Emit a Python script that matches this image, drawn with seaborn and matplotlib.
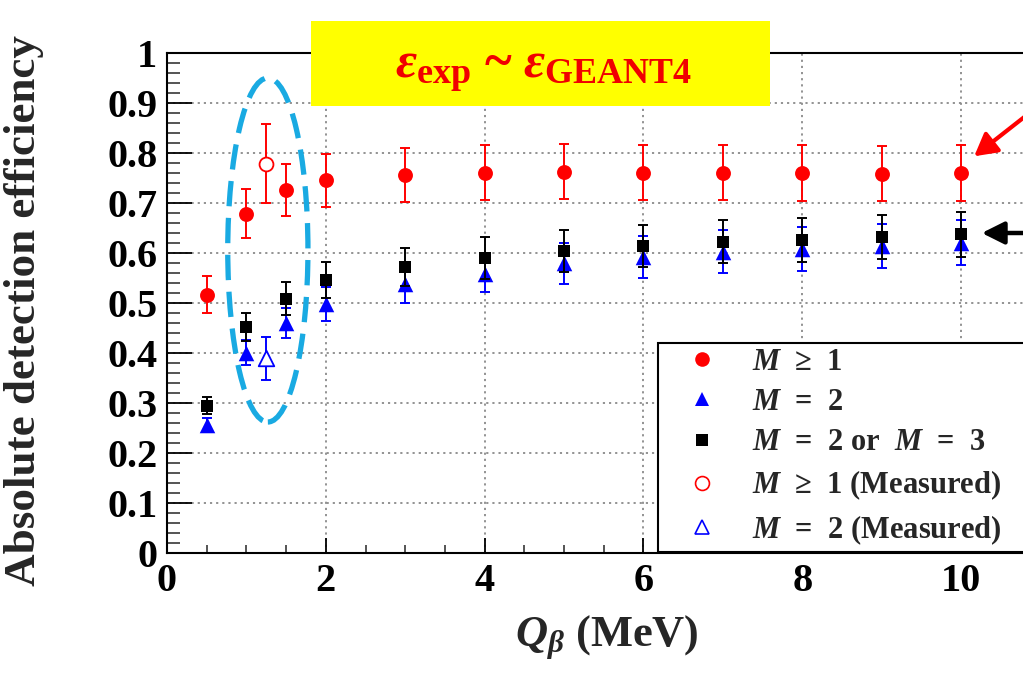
import matplotlib
matplotlib.use("Agg")
import matplotlib.pyplot as plt
from matplotlib.patches import Ellipse, Rectangle, FancyArrowPatch
from matplotlib.lines import Line2D
from matplotlib.ticker import MultipleLocator
import seaborn as sns
import pandas as pd

# Simulated efficiencies versus Q-beta
q_values = [0.5, 1, 1.5, 2, 3, 4, 5, 6, 7, 8, 9, 10]
eff_m_ge1 = [0.517, 0.679, 0.727, 0.746, 0.757, 0.761, 0.763, 0.761, 0.761, 0.760, 0.759, 0.760]
err_m_ge1 = [0.037, 0.048, 0.052, 0.053, 0.054, 0.055, 0.055, 0.055, 0.055, 0.055, 0.055, 0.055]
eff_m_eq2 = [0.256, 0.401, 0.461, 0.499, 0.539, 0.559, 0.580, 0.593, 0.603, 0.609, 0.614, 0.621]
err_m_eq2 = [0.014, 0.025, 0.030, 0.034, 0.038, 0.036, 0.041, 0.042, 0.043, 0.044, 0.044, 0.045]
eff_m_23 = [0.295, 0.453, 0.509, 0.546, 0.573, 0.591, 0.605, 0.614, 0.623, 0.627, 0.633, 0.638]
err_m_23 = [0.017, 0.028, 0.033, 0.036, 0.038, 0.042, 0.042, 0.042, 0.043, 0.044, 0.044, 0.045]

# Measured points
q_meas = [1.25]
eff_meas_ge1 = [0.779]
err_meas_ge1 = [0.080]
eff_meas_eq2 = [0.390]
err_meas_eq2 = [0.043]

legend_labels = [
    r"$M$  ≥  1",
    r"$M$  =  2",
    r"$M$  =  2 or  $M$  =  3",
    r"$M$  ≥  1 (Measured)",
    r"$M$  =  2 (Measured)",
]
x_ticks = [0, 2, 4, 6, 8, 10]
x_tick_labels = ["0", "2", "4", "6", "8", "10"]
y_ticks = [0, 0.1, 0.2, 0.3, 0.4, 0.5, 0.6, 0.7, 0.8, 0.9, 1.0]
y_tick_labels = ["0", "0.1", "0.2", "0.3", "0.4", "0.5", "0.6", "0.7", "0.8", "0.9", "1"]

sns.set_theme(style="white")
plt.rcParams["font.family"] = ["Liberation Serif", "DejaVu Serif"]
plt.rcParams["font.weight"] = "bold"
plt.rcParams["mathtext.fontset"] = "custom"
plt.rcParams["mathtext.rm"] = "Liberation Serif:bold"
plt.rcParams["mathtext.it"] = "Liberation Serif:italic:bold"
plt.rcParams["mathtext.bf"] = "Liberation Serif:bold"

W, H = 1023, 675
fig = plt.figure(figsize=(W / 100, H / 100), dpi=100)
ax = fig.add_axes([167 / W, 1 - 553 / H, 1 - 167 / W, (553 - 53) / H])

ax.set_xlim(0, 10.78)
ax.set_ylim(0, 1)

# grid
ax.xaxis.set_major_locator(MultipleLocator(2))
ax.xaxis.set_minor_locator(MultipleLocator(0.5))
ax.yaxis.set_major_locator(MultipleLocator(0.1))
ax.yaxis.set_minor_locator(MultipleLocator(0.02))
ax.grid(True, which="major", color="#8a8a8a", linestyle=(0, (1.2, 2.2)), linewidth=1.3)
ax.set_axisbelow(True)

# highlight ellipse around the low-Q region
ell = Ellipse((1.27, 0.606), 1.01, 0.688, fill=False, edgecolor="#19aae2",
              linewidth=3.8, linestyle=(0, (4.8, 2.2)), zorder=2)
ax.add_patch(ell)

df_ge1 = pd.DataFrame({"Q": q_values, "eff": eff_m_ge1})
df_eq2 = pd.DataFrame({"Q": q_values, "eff": eff_m_eq2})
df_23 = pd.DataFrame({"Q": q_values, "eff": eff_m_23})
df_mg = pd.DataFrame({"Q": q_meas, "eff": eff_meas_ge1})
df_me = pd.DataFrame({"Q": q_meas, "eff": eff_meas_eq2})

ekw = dict(fmt="none", capsize=3.5, elinewidth=1.4, capthick=1.4)

ax.errorbar(q_values, eff_m_ge1, yerr=err_m_ge1, ecolor="#ff0000", zorder=3, **ekw)
sns.scatterplot(data=df_ge1, x="Q", y="eff", ax=ax, marker="o", color="#ff0000",
                s=115, edgecolor="#ff0000", linewidth=0, zorder=4, legend=False)

ax.errorbar(q_meas, eff_meas_ge1, yerr=err_meas_ge1, ecolor="#ff0000", zorder=3, **ekw)
sns.scatterplot(data=df_mg, x="Q", y="eff", ax=ax, marker="o", facecolor="white",
                edgecolor="#ff0000", s=100, linewidth=1.3, zorder=4, legend=False)

ax.errorbar(q_values, eff_m_eq2, yerr=err_m_eq2, ecolor="#0000ff", zorder=5, **ekw)
sns.scatterplot(data=df_eq2, x="Q", y="eff", ax=ax, marker="^", color="#0000ff",
                s=125, edgecolor="#0000ff", linewidth=0, zorder=6, legend=False)

ax.errorbar(q_meas, eff_meas_eq2, yerr=err_meas_eq2, ecolor="#0000ff", zorder=5, **ekw)
sns.scatterplot(data=df_me, x="Q", y="eff", ax=ax, marker="^", facecolor="white",
                edgecolor="#0000ff", s=125, linewidth=1.3, zorder=6, legend=False)

ax.errorbar(q_values, eff_m_23, yerr=err_m_23, ecolor="black", zorder=7, **ekw)
sns.scatterplot(data=df_23, x="Q", y="eff", ax=ax, marker="s", color="black",
                s=85, edgecolor="black", linewidth=0, zorder=8, legend=False)

# axes styling
for side in ["left", "bottom", "top"]:
    ax.spines[side].set_visible(True)
    ax.spines[side].set_color("black")
    ax.spines[side].set_linewidth(1.5)
ax.spines["right"].set_visible(False)
ax.tick_params(axis="y", which="major", direction="in", length=18, width=1.3,
               labelsize=29, pad=7, left=True, colors="black")
ax.tick_params(axis="y", which="minor", direction="in", length=9.5, width=1.1, left=True)
ax.tick_params(axis="x", which="major", direction="in", length=11, width=1.3,
               labelsize=29, pad=7, bottom=True, colors="black")
ax.tick_params(axis="x", which="minor", direction="in", length=6, width=1.1, bottom=True)
ax.set_xticks(x_ticks)
ax.set_xticklabels(x_tick_labels)
ax.set_yticks(y_ticks)
ax.set_yticklabels(y_tick_labels)
for lab in ax.get_xticklabels() + ax.get_yticklabels():
    lab.set_fontweight("bold")
ax.set_xlabel("")
ax.set_ylabel("")

fig.text(24 / W, 1 - 310 / H, "Absolute detection efficiency", rotation=90,
         ha="center", va="center", fontsize=32.5, fontweight="bold")
fig.text(607 / W, 1 - 638 / H, r"$Q_{\beta}$ (MeV)", ha="center", va="center",
         fontsize=32, fontweight="bold")

# legend
handles = [
    Line2D([], [], linestyle="none", marker="o", markersize=10.5, color="#ff0000", markeredgewidth=0),
    Line2D([], [], linestyle="none", marker="^", markersize=10, color="#0000ff", markeredgewidth=0),
    Line2D([], [], linestyle="none", marker="s", markersize=8, color="black", markeredgewidth=0),
    Line2D([], [], linestyle="none", marker="o", markersize=10, markerfacecolor="white",
           markeredgecolor="#ff0000", markeredgewidth=1.2),
    Line2D([], [], linestyle="none", marker="^", markersize=10, markerfacecolor="white",
           markeredgecolor="#0000ff", markeredgewidth=1.2),
]
leg = fig.legend(handles, legend_labels, loc="upper left",
                 bbox_to_anchor=(658 / W, 1 - 553 / H, 0.5, (553 - 343) / H),
                 mode="expand", frameon=True, fancybox=False,
                 edgecolor="black", framealpha=1, fontsize=22, labelspacing=0.37,
                 handletextpad=0.38, borderpad=0.15, borderaxespad=0, handlelength=2.55)
leg.get_frame().set_linewidth(1.5)
for t in leg.get_texts():
    t.set_fontweight("bold")

# title box
fig.patches.append(Rectangle((311 / W, 1 - 106 / H), (770 - 311) / W, (106 - 21) / H,
                             transform=fig.transFigure, facecolor="#ffff00",
                             edgecolor="none", zorder=10))
fig.text(543 / W, 1 - 72 / H, r"$\varepsilon_{\mathbf{exp}}$ ~ $\varepsilon_{\mathbf{GEANT4}}$",
         ha="center", va="center", fontsize=37, color="#f00000", fontweight="bold", zorder=11)

# arrows
fig.add_artist(FancyArrowPatch(
    (1032 / W, 1 - 111 / H), (972 / W, 1 - 158 / H), transform=fig.transFigure,
    arrowstyle="-|>,head_length=9,head_width=5", color="#ff0000", linewidth=3.0,
    mutation_scale=1.5, zorder=12))
fig.add_artist(FancyArrowPatch(
    (1035 / W, 1 - 233 / H), (979 / W, 1 - 233 / H), transform=fig.transFigure,
    arrowstyle="-|>,head_length=9,head_width=4.5", color="black", linewidth=3.2,
    mutation_scale=1.5, zorder=12))

fig.savefig("out.png", dpi=100, facecolor="white")
